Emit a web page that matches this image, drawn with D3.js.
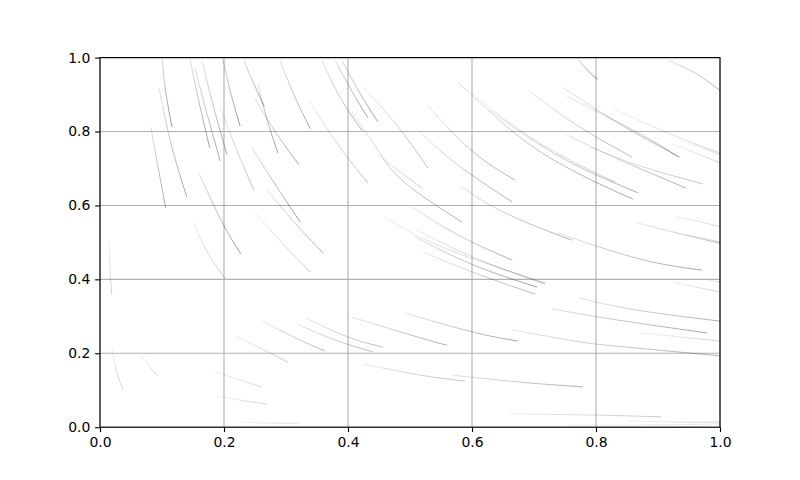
<!DOCTYPE html>
<html><head><meta charset="utf-8">
<script src="https://cdn.jsdelivr.net/npm/d3@7"></script>
<style>body{margin:0;background:#fff}svg{display:block}</style>
</head><body><svg id="c" width="800" height="480"></svg>
<script>
const xTickValues = [0, 0.2, 0.4, 0.6, 0.8, 1.0];
const yTickValues = [0, 0.2, 0.4, 0.6, 0.8, 1.0];
const xTickLabels = ["0.0", "0.2", "0.4", "0.6", "0.8", "1.0"];
const yTickLabels = ["0.0", "0.2", "0.4", "0.6", "0.8", "1.0"];

// streamline segments, [x, y] in data units
const streamlines = [
  [[.100,.996],[.106,.907],[.116,.812]],
  [[.095,.918],[.115,.764],[.140,.623]],
  [[.082,.812],[.094,.701],[.106,.593]],
  [[.145,.996],[.160,.877],[.177,.756]],
  [[.153,.971],[.173,.845],[.194,.720]],
  [[.165,.988],[.184,.861],[.205,.737]],
  [[.198,.996],[.211,.903],[.226,.815]],
  [[.232,.993],[.248,.929],[.265,.868]],
  [[.194,.866],[.219,.756],[.248,.642]],
  [[.160,.685],[.197,.555],[.227,.469]],
  [[.150,.555],[.173,.474],[.202,.401]],
  [[.015,.498],[.016,.426],[.019,.358]],
  [[.255,.926],[.269,.834],[.287,.742]],
  [[.250,.888],[.284,.796],[.321,.710]],
  [[.290,.993],[.313,.899],[.339,.807]],
  [[.339,.880],[.384,.764],[.432,.661]],
  [[.358,.993],[.387,.893],[.423,.802]],
  [[.379,.993],[.405,.913],[.432,.837]],
  [[.390,.993],[.418,.907],[.448,.826]],
  [[.423,.921],[.476,.823],[.529,.701]],
  [[.245,.756],[.281,.661],[.323,.555]],
  [[.268,.644],[.313,.555],[.360,.471]],
  [[.250,.580],[.294,.498],[.339,.420]],
  [[.406,.853],[.448,.750],[.492,.661],[.584,.555]],
  [[.448,.737],[.484,.691],[.519,.647]],
  [[.503,.596],[.581,.517],[.665,.452]],
  [[.460,.569],[.548,.490],[.718,.390]],
  [[.510,.534],[.605,.458],[.718,.387]],
  [[.508,.515],[.602,.439],[.705,.379]],
  [[.521,.474],[.605,.417],[.702,.360]],
  [[.581,.653],[.653,.580],[.761,.506]],
  [[.739,.525],[.871,.455],[.971,.425]],
  [[.529,.868],[.602,.745],[.669,.669]],
  [[.516,.799],[.577,.710],[.665,.609]],
  [[.577,.934],[.640,.837],[.713,.742],[.802,.661],[.860,.617]],
  [[.629,.858],[.685,.791],[.766,.710],[.868,.634]],
  [[.597,.907],[.665,.818],[.742,.737],[.831,.663]],
  [[.694,.907],[.771,.815],[.858,.731]],
  [[.747,.918],[.798,.863],[.855,.804],[.935,.731]],
  [[.752,.896],[.874,.791],[.932,.731]],
  [[.826,.863],[.923,.791],[1.0,.742]],
  [[.923,.766],[.961,.742],[1.0,.715]],
  [[.944,.772],[.971,.756],[1.0,.737]],
  [[.753,.791],[.831,.729],[.945,.647]],
  [[.790,.758],[.871,.707],[.973,.658]],
  [[.769,1.0],[.785,.968],[.802,.941]],
  [[.916,.993],[.960,.958],[1.0,.911]],
  [[.927,.569],[.963,.558],[1.0,.542]],
  [[.866,.553],[.944,.520],[1.0,.498]],
  [[.947,.520],[.973,.512],[1.0,.501]],
  [[.923,.393],[.961,.379],[1.0,.366]],
  [[.981,.398],[1.0,.393]],
  [[.771,.350],[.866,.317],[1.0,.287]],
  [[.729,.320],[.835,.290],[.979,.255]],
  [[.874,.255],[.937,.244],[1.0,.233]],
  [[.665,.263],[.774,.231],[.847,.217],[1.0,.193]],
  [[.492,.309],[.600,.258],[.674,.233]],
  [[.406,.298],[.516,.242],[.560,.222]],
  [[.331,.296],[.400,.244],[.456,.217]],
  [[.318,.279],[.379,.236],[.440,.204]],
  [[.261,.287],[.315,.242],[.363,.206]],
  [[.218,.247],[.258,.214],[.303,.176]],
  [[.184,.152],[.226,.128],[.260,.109]],
  [[.190,.084],[.234,.071],[.269,.063]],
  [[.227,.014],[.274,.011],[.321,.011]],
  [[.424,.171],[.516,.141],[.589,.125]],
  [[.568,.141],[.677,.122],[.779,.109]],
  [[.661,.036],[.790,.033],[.905,.028]],
  [[.850,.017],[.935,.014],[1.0,.014]],
  [[.745,.006],[.871,.006],[1.0,.009]],
  [[.019,.214],[.027,.149],[.037,.103]],
  [[.066,.195],[.079,.166],[.092,.139]]
];
const lineAlpha = [
  .6,.5,.5,.55,.5,.5,.6,.55,.35,.55,.3,.25,.55,.5,.5,.35,.45,.55,.55,.35,
  .55,.45,.3,.45,.3,.45,.3,.35,.55,.4,.45,.5,.45,.45,.5,.45,.3,.4,.45,.4,
  .25,.25,.2,.45,.35,.65,.45,.25,.4,.25,.25,.25,.45,.5,.25,.45,.5,.45,.4,.4,
  .4,.3,.25,.25,.2,.35,.45,.3,.25,.15,.25,.25
];

const W = 800, H = 480;
const x = d3.scaleLinear().domain([0, 1]).range([100, 720]);
const y = d3.scaleLinear().domain([0, 1]).range([427.2, 57.6]);
const svg = d3.select("#c");
svg.append("rect").attr("width", W).attr("height", H).attr("fill", "#fff");

const defs = svg.append("defs");
defs.append("clipPath").attr("id", "clip").append("rect")
  .attr("x", x(0)).attr("y", y(1)).attr("width", x(1) - x(0)).attr("height", y(0) - y(1));

// grid
const grid = svg.append("g");
grid.selectAll("line.gx").data(xTickValues).join("line").attr("class", "gx")
  .attr("x1", d => x(d)).attr("x2", d => x(d)).attr("y1", y(0)).attr("y2", y(1))
  .attr("stroke", "#b0b0b0").attr("stroke-width", 1.11);
grid.selectAll("line.gy").data(yTickValues).join("line").attr("class", "gy")
  .attr("y1", d => y(d)).attr("y2", d => y(d)).attr("x1", x(0)).attr("x2", x(1))
  .attr("stroke", "#b0b0b0").attr("stroke-width", 1.11);

// streamlines
const lineGen = d3.line().x(d => x(d[0])).y(d => y(d[1])).curve(d3.curveNatural);
streamlines.forEach((pts, i) => {
  const a = lineAlpha[i];
  const s = pts[0], e = pts[pts.length - 1];
  const gr = defs.append("linearGradient").attr("id", "g" + i)
    .attr("gradientUnits", "userSpaceOnUse")
    .attr("x1", x(s[0])).attr("y1", y(s[1])).attr("x2", x(e[0])).attr("y2", y(e[1]));
  gr.append("stop").attr("offset", "0%").attr("stop-color", "#3a3a3a").attr("stop-opacity", a * 0.35);
  gr.append("stop").attr("offset", "100%").attr("stop-color", "#3a3a3a").attr("stop-opacity", a);
});
svg.append("g").attr("clip-path", "url(#clip)")
  .selectAll("path").data(streamlines).join("path")
  .attr("d", d => lineGen(d))
  .attr("fill", "none")
  .attr("stroke", (d, i) => `url(#g${i})`)
  .attr("stroke-width", 0.9);

// axes
const font = "DejaVu Sans, sans-serif";
const xAxis = d3.axisBottom(x).tickValues(xTickValues).tickFormat((d, i) => xTickLabels[i])
  .tickSizeInner(4.86).tickSizeOuter(0).tickPadding(4.86);
const yAxis = d3.axisLeft(y).tickValues(yTickValues).tickFormat((d, i) => yTickLabels[i])
  .tickSizeInner(4.86).tickSizeOuter(0).tickPadding(4.86);
const gx = svg.append("g").attr("transform", `translate(0,${y(0)})`).call(xAxis);
const gy = svg.append("g").attr("transform", `translate(${x(0)},0)`).call(yAxis);
[gx, gy].forEach(g => {
  g.select(".domain").remove();
  g.selectAll(".tick line").attr("stroke", "#000").attr("stroke-width", 1.11);
  g.selectAll(".tick text").attr("fill", "#000").style("font-family", font).style("font-size", "13.9px");
});

// spines
svg.append("rect").attr("x", x(0)).attr("y", y(1)).attr("width", x(1) - x(0)).attr("height", y(0) - y(1))
  .attr("fill", "none").attr("stroke", "#000").attr("stroke-width", 1.11);
</script></body></html>
